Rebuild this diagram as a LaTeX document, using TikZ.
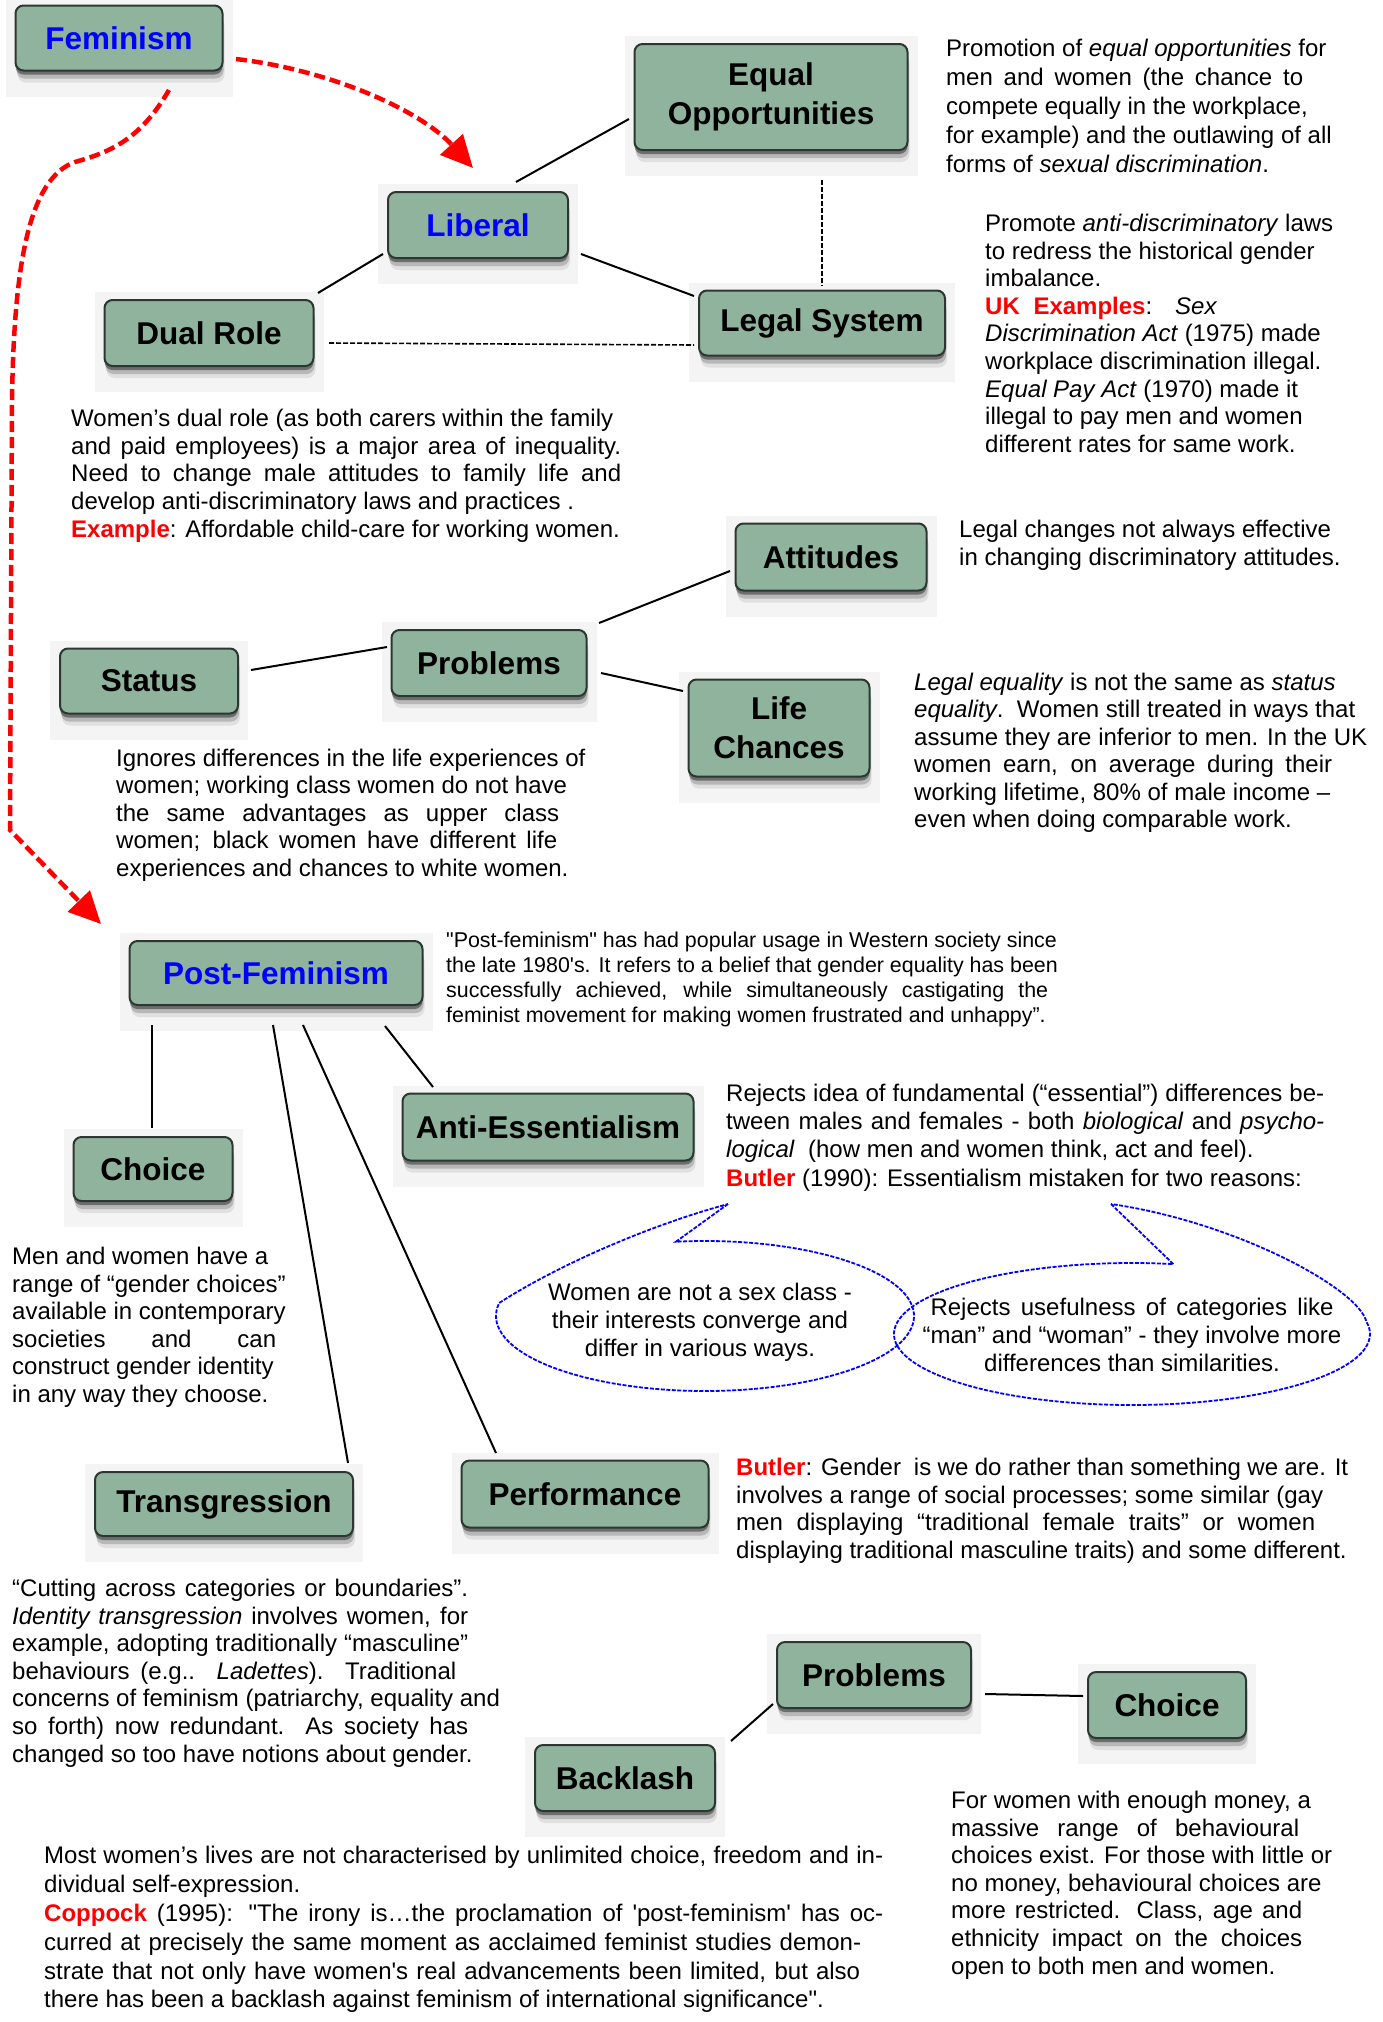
\documentclass[tikz,border=0pt]{standalone}
\usepackage{fontspec}
\setmainfont{Liberation Sans}
\usetikzlibrary{arrows.meta,shadows,calc}
\definecolor{boxfill}{RGB}{143,179,156}
\definecolor{boxline}{RGB}{45,55,50}
\definecolor{halocol}{RGB}{243,244,243}
\definecolor{redtxt}{RGB}{255,0,0}
\definecolor{bluetxt}{RGB}{0,0,255}
\newcommand{\rd}[1]{\textcolor{redtxt}{\textbf{#1}}}
\newcommand{\sx}[2]{\makebox[#1pt][s]{#2}}
\newcommand{\bnode}[6]{%
  \fill[halocol] (#2-#4/2-10,#3-#5/2-8) rectangle (#2+#4/2+10,#3+#5/2+26);
  \node[box, minimum width=#4pt, minimum height=#5pt] (#1) at (#2,#3) {#6};
}
\tikzset{
  box/.style={rectangle, rounded corners=8pt, draw=boxline, line width=2pt, fill=boxfill,
    inner sep=0pt, align=center, font=\fontsize{31.5}{38.7}\selectfont\bfseries,
    drop shadow={shadow xshift=2pt, shadow yshift=-12pt, opacity=.08, fill=black},
    drop shadow={shadow xshift=1pt, shadow yshift=-8pt, opacity=.18, fill=black},
    drop shadow={shadow xshift=0pt, shadow yshift=-4pt, opacity=.4, fill=black}},
  txt/.style 2 args={anchor=north west, inner sep=0pt, align=left, font=\fontsize{#1}{#2}\selectfont},
  ctxt/.style={anchor=north, inner sep=0pt, align=center, font=\fontsize{24}{27.7}\selectfont},
  conn/.style={draw=black, line width=2pt},
  dconn/.style={draw=black, line width=1.6pt, dash pattern=on 5pt off 2pt},
  redarr/.style={draw=redtxt, line width=4.5pt, dash pattern=on 11pt off 5pt,
    -{Triangle[length=32pt,width=30pt]}},
  callout/.style={draw=bluetxt, line width=1.8pt, dash pattern=on 4pt off 1.5pt}
}
\begin{document}
\begin{tikzpicture}[x=1pt,y=-1pt]
\fill[white] (0,0) rectangle (1382,2022);
\useasboundingbox (0,0) rectangle (1382,2022);

% boxes
\bnode{fem}{119}{38}{207}{65}{\textcolor{bluetxt}{Feminism}}
\bnode{eo}{771}{97}{273}{106}{Equal\\Opportunities}
\bnode{lib}{478}{225}{180}{66}{\textcolor{bluetxt}{Liberal}}
\bnode{dual}{209}{333}{209}{66}{Dual Role}
\bnode{legal}{822}{323}{246}{65}{Legal System}
\bnode{att}{831}{557}{191}{67}{Attitudes}
\bnode{status}{149}{681}{178}{65}{Status}
\bnode{prob}{489}{663}{195}{66}{Problems}
\bnode{lc}{779}{728}{181}{97}{Life\\Chances}
\bnode{pf}{276}{973}{293}{64}{\textcolor{bluetxt}{Post-Feminism}}
\bnode{ae}{548}{1127}{291}{67}{Anti-Essentialism}
\bnode{choice}{153}{1169}{159}{64}{Choice}
\bnode{trans}{224}{1504}{258}{64}{Transgression}
\bnode{perf}{585}{1494}{247}{67}{Performance}
\bnode{prob2}{874}{1675}{194}{66}{Problems}
\bnode{choice2}{1167}{1705}{158}{66}{Choice}
\bnode{back}{625}{1778}{180}{66}{Backlash}

% connectors
\draw[conn] ([shift={(38,-43)}]lib.center) -- ([shift={(-142,22)}]eo.center);
\draw[conn] ([shift={(103,29)}]lib.center) -- ([shift={(-128,-27)}]legal.center);
\draw[conn] ([shift={(-95,29)}]lib.center) -- ([shift={(109,-40)}]dual.center);
\draw[dconn] ([shift={(120,10)}]dual.center) -- ([shift={(-128,22)}]legal.center);
\draw[dconn] ([shift={(51,83)}]eo.center) -- ([shift={(0,-37)}]legal.center);
\draw[conn] ([shift={(110,-40)}]prob.center) -- ([shift={(-101,14)}]att.center);
\draw[conn] ([shift={(-102,-16)}]prob.center) -- ([shift={(102,-11)}]status.center);
\draw[conn] ([shift={(112,10)}]prob.center) -- ([shift={(-96,-37)}]lc.center);
\draw[conn] ([shift={(-124,52)}]pf.center) -- ([shift={(-1,-41)}]choice.center);
\draw[conn] ([shift={(-3,52)}]pf.center) -- ([shift={(124,-41)}]trans.center);
\draw[conn] ([shift={(27,52)}]pf.center) -- ([shift={(-89,-41)}]perf.center);
\draw[conn] ([shift={(109,53)}]pf.center) -- ([shift={(-115,-40)}]ae.center);
\draw[conn] ([shift={(-101,29)}]prob2.center) -- ([shift={(106,-37)}]back.center);
\draw[conn] ([shift={(111,19)}]prob2.center) -- ([shift={(-84,-9)}]choice2.center);

% red arrows
\draw[redarr] ([shift={(117,21)}]fem.center) .. controls (330,70) and (420,110) .. ([shift={(-5,-57)}]lib.center);
\draw[redarr] ([shift={(50,52)}]fem.center) .. controls (140,140) and (110,152) .. (75,162)
  .. controls (30,178) and (14,260) .. (12,400) -- (10,830) -- ([shift={(-175,-49)}]pf.center);

% texts
\node[txt={24}{29}] (t1) at (946,36) {\strut Promotion of \textit{equal opportunities} for\\
\sx{357}{men and women (the chance to}\\
compete equally in the workplace,\\
for example) and the outlawing of all\\
forms of \textit{sexual discrimination}.};

\node[txt={24}{27.6}] (t2) at (985,212) {\strut Promote \textit{anti-discriminatory} laws\\
to redress the historical gender\\
imbalance.\\
\sx{232}{\rd{UK Examples}: \textit{Sex}}\\
\textit{Discrimination Act} (1975) made\\
workplace discrimination illegal.\\
\textit{Equal Pay Act} (1970) made it\\
illegal to pay men and women\\
different rates for same work.};

\node[txt={24}{27.7}] (t3) at (71,407) {\strut Women’s dual role (as both carers within the family\\
\sx{550}{and paid employees) is a major area of inequality.}\\
\sx{550}{Need to change male attitudes to family life and}\\
develop anti-discriminatory laws and practices .\\
\rd{Example}: Affordable child-care for working women.};

\node[txt={24}{28.5}] (t4) at (959,517) {\strut Legal changes not always effective\\
in changing discriminatory attitudes.};

\node[txt={24}{27.5}] (t5) at (116,747) {\strut Ignores differences in the life experiences of\\
women; working class women do not have\\
\sx{443}{the same advantages as upper class}\\
\sx{441}{women; black women have different life}\\
experiences and chances to white women.};

\node[txt={24}{27.5}] (t6) at (914,671) {\strut \textit{Legal equality} is not the same as \textit{status}\\
\textit{equality}.\ \ Women still treated in ways that\\
assume they are inferior to men. In the UK\\
\sx{418}{women earn, on average during their}\\
working lifetime, 80\% of male income –\\
even when doing comparable work.};

\node[txt={21.4}{24.9}] (t7) at (446,930) {\strut \textquotedbl Post-feminism\textquotedbl\ has had popular usage in Western society since\\
the late 1980\textquotesingle s. It refers to a belief that gender equality has been\\
\sx{602}{successfully achieved, while simultaneously castigating the}\\
feminist movement for making women frustrated and unhappy”.};

\node[txt={24}{28.4}] (t8) at (726,1081) {\strut \sx{598}{Rejects idea of fundamental (“essential”) differences be-}\\
\sx{598}{tween males and females - both \textit{biological} and \textit{psycho-}}\\
\textit{logical}\ \ (how men and women think, act and feel).\\
\rd{Butler} (1990): Essentialism mistaken for two reasons:};

\node[txt={24}{27.6}] (t9) at (12,1245) {\strut Men and women have a\\
range of “gender choices”\\
available in contemporary\\
\sx{264}{societies and can}\\
construct gender identity\\
in any way they choose.};

\node[txt={24}{27.6}] (t10) at (736,1456) {\strut \sx{612}{\rd{Butler}: Gender\ \ is we do rather than something we are. It}\\
involves a range of social processes; some similar (gay\\
\sx{579}{men displaying “traditional female traits” or women}\\
displaying traditional masculine traits) and some different.};

\node[txt={24}{27.6}] (t11) at (12,1577) {\strut \sx{456}{“Cutting across categories or boundaries”.}\\
\sx{456}{\textit{Identity transgression} involves women, for}\\
\sx{456}{example, adopting traditionally “masculine”}\\
\sx{444}{behaviours (e.g.. \textit{Ladettes}). Traditional}\\
concerns of feminism (patriarchy, equality and\\
\sx{456}{so forth) now redundant. As society has}\\
changed so too have notions about gender.};

\node[txt={24}{28.9}] (t12) at (44,1843) {\strut \sx{839}{Most women’s lives are not characterised by unlimited choice, freedom and in-}\\
dividual self-expression.\\
\sx{839}{\rd{Coppock} (1995): \textquotedbl The irony is…the proclamation of \textquotesingle post-feminism\textquotesingle\ has oc-}\\
\sx{817}{curred at precisely the same moment as acclaimed feminist studies demon-}\\
\sx{816}{strate that not only have women\textquotesingle s real advancements been limited, but also}\\
there has been a backlash against feminism of international significance\textquotedbl.};

\node[txt={24}{27.6}] (t13) at (951,1789) {\strut For women with enough money, a\\
\sx{348}{massive range of behavioural}\\
choices exist. For those with little or\\
no money, behavioural choices are\\
\sx{351}{more restricted. Class, age and}\\
\sx{351}{ethnicity impact on the choices}\\
open to both men and women.};

% callouts
\coordinate (cLc) at (705,1316);
\coordinate (cLt) at (728,1204);
\coordinate (cRc) at (1132,1334);
\coordinate (cRt) at (1111,1204);
\draw[callout] (cLt) -- ($(cLc)+(262:209 and 75)$)
  arc[start angle=262, end angle=550, x radius=209, y radius=75]
  .. controls (550,1270) and (640,1228) .. (cLt);
\draw[callout] (cRt) -- ($(cRc)+(280:238 and 71)$)
  arc[start angle=280, end angle=-10, x radius=238, y radius=71]
  .. controls (1358,1288) and (1235,1222) .. (cRt);
\node[ctxt] (cl) at (700,1281) {\strut Women are not a sex class -\\
their interests converge and\\
differ in various ways.};
\node[ctxt] (cr) at (1132,1296) {\strut \sx{403}{Rejects usefulness of categories like}\\
“man” and “woman” - they involve more\\
differences than similarities.};
\end{tikzpicture}
\end{document}
